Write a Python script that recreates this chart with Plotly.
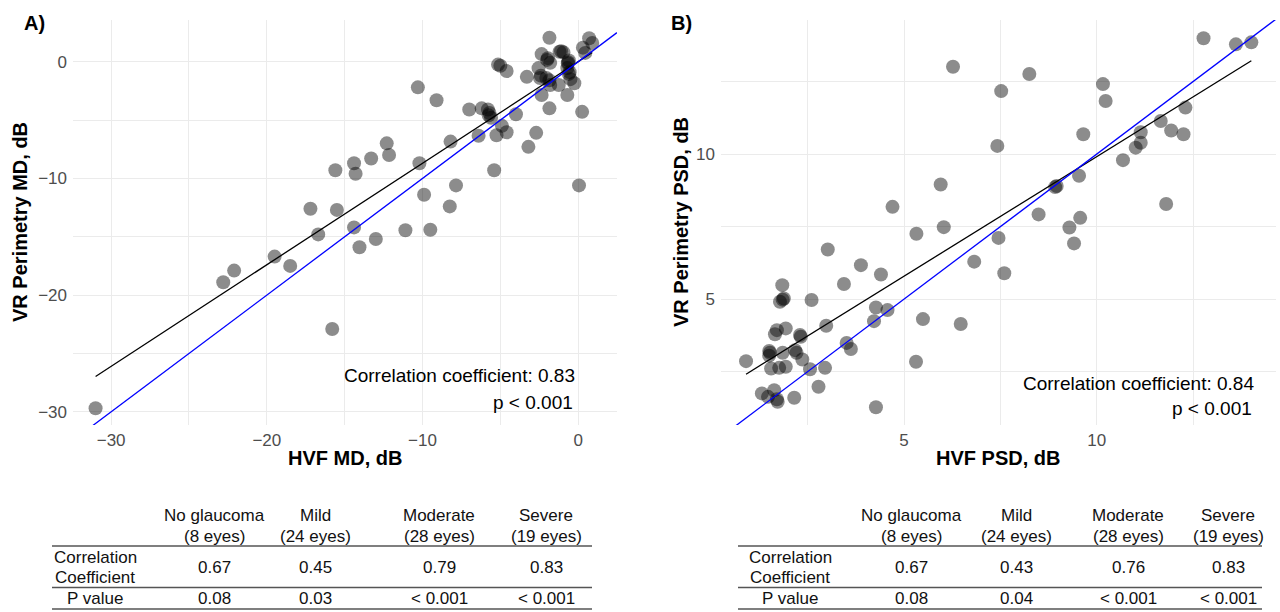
import plotly.graph_objects as go

W, H = 1280, 612

# ---------------- data ----------------
A_hvf_md = [-31.0, -22.8, -22.1, -19.5, -18.5, -17.2, -16.7, -15.8, -15.6, -15.5,
            -14.4, -14.3, -14.4, -14.05, -13.3, -13.0, -12.3, -12.15, -11.1, -10.3,
            -10.2, -9.9, -9.5, -9.1, -8.25, -8.2, -7.85, -7.0, -6.4, -6.2,
            -5.8, -5.7, -5.6, -5.75, -5.4, -5.25, -4.9, -4.6, -4.0, -5.15,
            -5.0, -4.6, -3.3, -3.2, -2.7, -1.85, -2.35, -2.55, -2.0, -1.95,
            -1.8, -1.1, -0.95, -1.2, -0.65, -0.6, -0.7, -0.6, -0.55, -0.25,
            -0.5, -1.25, -1.8, -2.05, -2.45, -2.4, -2.35, -1.85, -0.7, -1.85,
            0.25, 0.7, 0.9, 0.3, 0.45, 0.05, -0.67]
A_vr_md = [-29.7, -18.9, -17.9, -16.7, -17.5, -12.6, -14.8, -22.9, -9.3, -12.7,
           -8.7, -9.6, -14.2, -15.9, -8.3, -15.2, -7.0, -8.0, -14.45, -2.2,
           -8.7, -11.4, -14.4, -3.3, -12.4, -6.85, -10.6, -4.1, -6.35, -4.0,
           -4.1, -4.4, -4.8, -4.6, -9.3, -6.3, -5.5, -6.05, -4.5, -0.25,
           -0.35, -0.8, -1.3, -7.3, -6.1, 2.05, 0.65, -0.55, 0.15, 0.3,
           -0.1, 0.9, 0.8, 0.85, -0.05, 0.1, -0.55, -1.05, -0.9, -1.85,
           -1.5, -2.0, -2.0, -1.4, -1.4, -1.2, -2.85, -1.6, -2.85, -4.0,
           -4.3, 2.0, 1.6, 1.2, 0.75, -10.6, -0.14]

B_hvf_psd = [6.27, 5.95, 4.70, 6.03, 5.32, 7.52, 7.42, 8.25, 9.65, 10.16,
             10.23, 12.77, 13.61, 14.01, 12.30, 11.66, 11.93, 12.25, 11.14, 11.14,
             11.01, 10.68, 9.54, 8.96, 8.92, 8.49, 9.57, 9.29, 11.80, 7.45,
             6.82, 7.60, 6.47, 9.41, 3.02, 3.88, 4.40, 3.44, 2.60, 1.84,
             1.88, 1.78, 1.85, 4.27, 4.57, 4.22, 5.49, 2.98, 1.93, 1.70,
             1.65, 2.30, 2.32, 3.51, 3.62, 1.50, 1.50, 1.85, 2.17, 2.21,
             2.36, 0.90, 1.55, 1.76, 1.93, 2.56, 2.95, 5.31, 2.78, 1.31,
             1.63, 1.47, 1.72, 2.15, 4.27, 1.52, 1.70]
B_vr_psd = [13.01, 8.95, 8.18, 7.48, 7.25, 12.17, 10.28, 12.76, 10.68, 12.41,
            11.83, 13.99, 13.78, 13.85, 11.60, 11.14, 10.81, 10.68, 10.75, 10.39,
            10.22, 9.79, 9.25, 8.90, 8.86, 7.92, 7.80, 7.47, 8.28, 7.11,
            6.29, 5.89, 4.14, 6.92, 6.71, 6.17, 5.85, 5.52, 4.97, 5.48,
            5.02, 4.91, 4.98, 4.71, 4.62, 4.24, 4.31, 4.08, 3.99, 3.93,
            3.79, 3.76, 3.70, 3.49, 3.28, 3.21, 3.05, 3.15, 3.24, 3.15,
            2.92, 2.86, 2.61, 2.63, 2.67, 2.58, 2.63, 2.84, 1.98, 1.75,
            1.86, 1.63, 1.46, 1.60, 1.27, 3.15, 1.55]

A_fit = [0.87, 0.0]     # slope, intercept (black regression line)
B_fit = [0.824, 1.67]

A_xticks = [-30, -20, -10, 0]
A_yticks = [-30, -20, -10, 0]
B_xticks = [5, 10]
B_yticks = [5, 10]

groups = ["No glaucoma", "Mild", "Moderate", "Severe"]
group_n = ["(8 eyes)", "(24 eyes)", "(28 eyes)", "(19 eyes)"]
A_corr = ["0.67", "0.45", "0.79", "0.83"]
A_pval = ["0.08", "0.03", "< 0.001", "< 0.001"]
B_corr = ["0.67", "0.43", "0.76", "0.83"]
B_pval = ["0.08", "0.04", "< 0.001", "< 0.001"]

# ---------------- layout helpers ----------------
def px(x):
    return x / W

def py(y):
    return 1 - y / H

A_xrange = [-32.45, 2.49]
A_yrange = [-31.13, 3.57]
B_xrange = [0.25, 14.65]
B_yrange = [0.66, 14.62]

FONT = "Liberation Sans, Arial, Helvetica, sans-serif"
marker = dict(color="rgba(0,0,0,0.45)", size=14, line=dict(width=0))

fig = go.Figure()

# Panel A
fig.add_trace(go.Scatter(x=A_hvf_md, y=A_vr_md, mode="markers", marker=marker,
                         xaxis="x", yaxis="y", showlegend=False))
ax0, ax1 = min(A_hvf_md), max(A_hvf_md)
fig.add_trace(go.Scatter(x=[ax0, ax1], y=[A_fit[0] * ax0 + A_fit[1], A_fit[0] * ax1 + A_fit[1]],
                         mode="lines", line=dict(color="black", width=1.3),
                         xaxis="x", yaxis="y", showlegend=False))
fig.add_trace(go.Scatter(x=A_xrange, y=A_xrange, mode="lines",
                         line=dict(color="blue", width=1.3),
                         xaxis="x", yaxis="y", showlegend=False))

# Panel B
fig.add_trace(go.Scatter(x=B_hvf_psd, y=B_vr_psd, mode="markers", marker=marker,
                         xaxis="x2", yaxis="y2", showlegend=False))
bx0, bx1 = min(B_hvf_psd), max(B_hvf_psd)
fig.add_trace(go.Scatter(x=[bx0, bx1], y=[B_fit[0] * bx0 + B_fit[1], B_fit[0] * bx1 + B_fit[1]],
                         mode="lines", line=dict(color="black", width=1.3),
                         xaxis="x2", yaxis="y2", showlegend=False))
fig.add_trace(go.Scatter(x=B_xrange, y=B_xrange, mode="lines",
                         line=dict(color="blue", width=1.3),
                         xaxis="x2", yaxis="y2", showlegend=False))


def with_minor(ticks, step):
    vals, texts = [], []
    lo, hi = min(ticks) - step, max(ticks) + step
    v = lo
    while v <= hi + 1e-9:
        vals.append(v)
        texts.append(str(int(v)).replace("-", "\u2212") if v in ticks else "")
        v += step
    return vals, texts


GRID = "#ebebeb"
tickfont = dict(family=FONT, size=17, color="#4d4d4d")

def axis(domain, rng, ticks, step, anchor, standoff):
    vals, texts = with_minor(ticks, step)
    return dict(domain=domain, range=rng, tickmode="array", tickvals=vals, ticktext=texts,
                showgrid=True, gridcolor=GRID, gridwidth=1, zeroline=False,
                showline=False, ticks="", tickfont=tickfont, anchor=anchor,
                ticklabelstandoff=standoff, fixedrange=True)

A_xdom = [px(73), px(617)]
B_xdom = [px(721), px(1276)]
ydom = [py(425), py(20)]

fig.update_layout(
    width=W, height=H,
    margin=dict(l=0, r=0, t=0, b=0),
    paper_bgcolor="white", plot_bgcolor="white",
    xaxis=axis(A_xdom, A_xrange, A_xticks, 5, "y", 3),
    yaxis=axis(ydom, A_yrange, A_yticks, 5, "x", 5),
    xaxis2=axis(B_xdom, B_xrange, B_xticks, 2.5, "y2", 3),
    yaxis2=axis(ydom, B_yrange, B_yticks, 2.5, "x2", 5),
    font=dict(family=FONT),
)

ann = []

def text(x, y, t, size=16, bold=False, color="#111111", xanchor="center", angle=0):
    if bold:
        t = "<b>" + t + "</b>"
    ann.append(dict(x=px(x), y=py(y), xref="paper", yref="paper", text=t,
                    showarrow=False, xanchor=xanchor, yanchor="middle", textangle=angle,
                    font=dict(family=FONT, size=size, color=color)))

# Panel labels
text(22, 23, "A)", size=20, bold=True, color="black", xanchor="left")
text(669, 23, "B)", size=20, bold=True, color="black", xanchor="left")

# Axis titles
text(345, 458, "HVF MD, dB", size=20, bold=True, color="black")
text(998, 458, "HVF PSD, dB", size=20, bold=True, color="black")
text(20, 222, "VR Perimetry MD, dB", size=20, bold=True, color="black", angle=-90)
text(681, 222, "VR Perimetry PSD, dB", size=20, bold=True, color="black", angle=-90)

# Correlation annotations
text(577, 375, "Correlation coefficient: 0.83", size=19, color="black", xanchor="right")
text(575, 402, "p < 0.001", size=19, color="black", xanchor="right")
text(1256, 383, "Correlation coefficient: 0.84", size=19, color="black", xanchor="right")
text(1254, 408, "p < 0.001", size=19, color="black", xanchor="right")

# Tables
shapes = []

def table(left, right, label_x, col_x, corr, pval):
    for i, cx in enumerate(col_x):
        text(cx, 515, groups[i], size=17)
        text(cx, 536, group_n[i], size=17)
        text(cx, 567, corr[i], size=17)
        text(cx, 598, pval[i], size=17)
    text(label_x, 557, "Correlation", size=17)
    text(label_x, 577, "Coefficient", size=17)
    text(label_x, 598, "P value", size=17)
    for yy in (546, 587.5, 609):
        shapes.append(dict(type="line", xref="paper", yref="paper",
                           x0=px(left), x1=px(right), y0=py(yy), y1=py(yy),
                           line=dict(color="#555555", width=1.5)))

table(52, 592, 95, [214, 315, 439, 546], A_corr, A_pval)
table(738, 1262, 790, [911, 1016, 1128, 1228], B_corr, B_pval)

fig.update_layout(annotations=ann, shapes=shapes)

fig.write_html("out.html")
